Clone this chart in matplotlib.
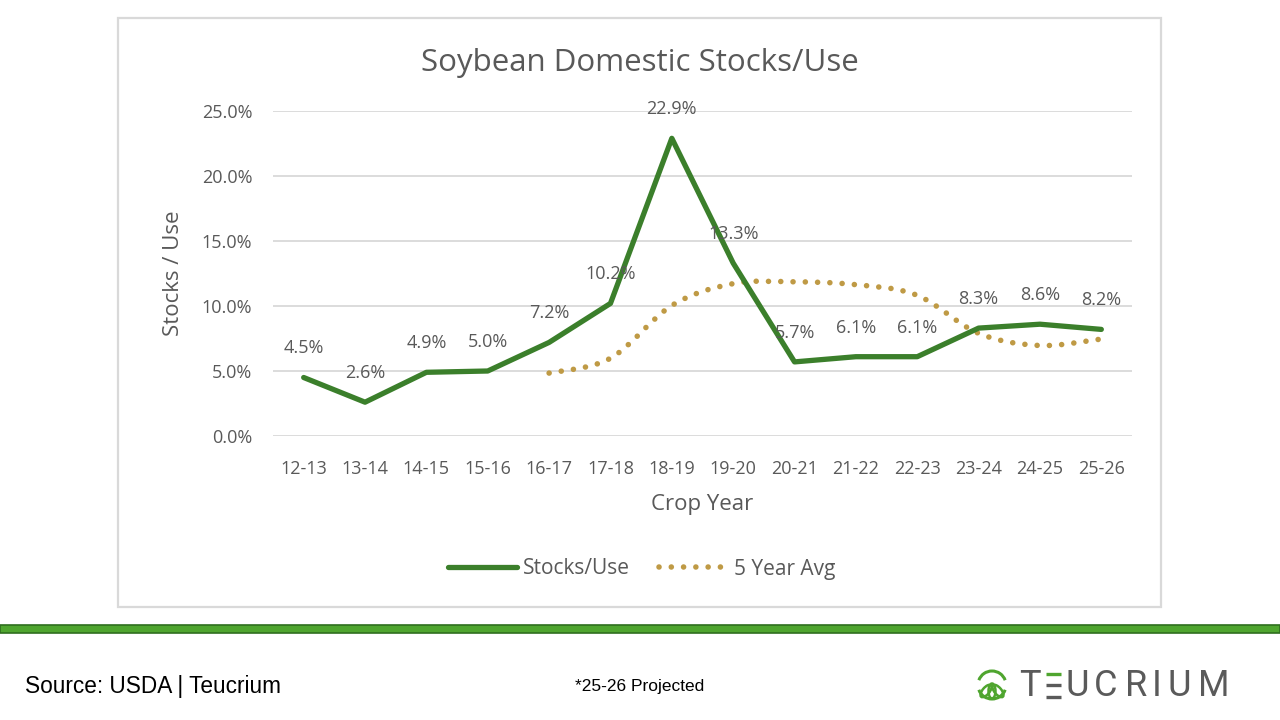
import numpy as np
import matplotlib
matplotlib.use('Agg')
import matplotlib.pyplot as plt
from matplotlib.path import Path
from matplotlib.patches import PathPatch, Rectangle, Arc, Ellipse
from matplotlib.lines import Line2D
from matplotlib.ticker import FuncFormatter

# data
crop_years = ['12-13', '13-14', '14-15', '15-16', '16-17', '17-18', '18-19',
              '19-20', '20-21', '21-22', '22-23', '23-24', '24-25', '25-26']
stocks_use = [4.5, 2.6, 4.9, 5.0, 7.2, 10.2, 22.9, 13.3, 5.7, 6.1, 6.1, 8.3, 8.6, 8.2]
# 5 year avg starts at 16-17
avg_years = crop_years[4:]
avg_5yr = [4.84, 5.98, 10.04, 11.72, 11.86, 11.64, 10.82, 7.90, 6.96, 7.46]

GREEN = '#3b7f2b'
GOLD = '#bf9a45'
GRAY = '#595959'
LOGO_GREEN = '#4fa52f'
LOGO_GRAY = '#5a5a5a'

W, H = 1280, 720
plt.rcParams['font.family'] = ['Open Sans', 'DejaVu Sans']
fig = plt.figure(figsize=(W / 100, H / 100), dpi=100)


def px(x0, y0, x1, y1):
    # pixel box (top-left origin) -> figure fraction rect
    return [x0 / W, 1 - y1 / H, (x1 - x0) / W, (y1 - y0) / H]


# chart frame
fig.patches.append(Rectangle((118 / W, 1 - 607 / H), (1161 - 118) / W, (607 - 18) / H,
                             transform=fig.transFigure, fill=False,
                             edgecolor='#d9d9d9', lw=1.6))

ax = fig.add_axes(px(273, 111, 1132, 436))
x = np.arange(len(crop_years))
y = np.array(stocks_use) / 100

ax.plot(x, y, color=GREEN, lw=3.8, solid_joinstyle='round', solid_capstyle='round',
        zorder=3, clip_on=False)

# smoothed 5 year avg (Excel-style Bezier smoothing)
xa = np.arange(4, 4 + len(avg_years), dtype=float)
ya = np.array(avg_5yr) / 100
pts = np.column_stack([xa, ya])
ext = np.vstack([pts[0], pts, pts[-1]])
verts = [tuple(pts[0])]
codes = [Path.MOVETO]
for i in range(len(pts) - 1):
    p0, p1, p2, p3 = ext[i], ext[i + 1], ext[i + 2], ext[i + 3]
    c1 = p1 + (p2 - p0) / 6
    c2 = p2 - (p3 - p1) / 6
    verts += [tuple(c1), tuple(c2), tuple(p2)]
    codes += [Path.CURVE4] * 3
ax.add_patch(PathPatch(Path(verts, codes), fill=False, edgecolor=GOLD, lw=4.0,
                       linestyle=(0, (0.01, 2.2)), capstyle='round', zorder=2))

for xi, yi, v in zip(x, y, stocks_use):
    ax.annotate(f'{v:.1f}%', (xi, yi), xytext=(0, 21), textcoords='offset points',
                ha='center', va='center', fontsize=13, color=GRAY, zorder=4,
                annotation_clip=False)

ax.set_xlim(-0.5, len(crop_years) - 0.5)
ax.set_ylim(0, 0.25)
ax.set_yticks(np.arange(0, 0.251, 0.05))
ax.yaxis.set_major_formatter(FuncFormatter(lambda v, p: f'{v * 100:.1f}%'))
ax.set_xticks(x)
ax.set_xticklabels(crop_years)
ax.grid(axis='y', color='#d9d9d9', lw=1.3)
ax.set_axisbelow(True)
for s in ax.spines.values():
    s.set_visible(False)
ax.tick_params(length=0, labelsize=13, labelcolor=GRAY)
ax.tick_params(axis='y', pad=15)
ax.tick_params(axis='x', pad=17)
ax.set_xlabel('Crop Year', fontsize=16, color=GRAY, labelpad=12)
ax.set_ylabel('Stocks / Use', fontsize=16, color=GRAY, labelpad=13)

fig.text(640 / W, 1 - 63 / H, 'Soybean Domestic Stocks/Use', ha='center', va='center',
         fontsize=22.5, color=GRAY)

handles = [Line2D([], [], color=GREEN, lw=3.8, solid_capstyle='round'),
           Line2D([], [], color=GOLD, lw=4.0, linestyle=(0, (0.01, 2.2)),
                  dash_capstyle='round')]
fig.legend(handles, ['Stocks/Use', '5 Year Avg'], loc='center',
           bbox_to_anchor=(642 / W, 1 - 569 / H), ncol=2, frameon=False,
           fontsize=15, labelcolor=GRAY, handlelength=3.3, handletextpad=0.3,
           columnspacing=1.4)

# footer bar
fig.patches.append(Rectangle((0, 1 - 633 / H), 1, 8 / H, transform=fig.transFigure,
                             facecolor=LOGO_GREEN, edgecolor='#2f6e1f', lw=1.2))

fig.text(25 / W, 1 - 686 / H, 'Source: USDA | Teucrium', ha='left', va='center',
         fontsize=16.3, color='black', family='Liberation Sans')
fig.text(640 / W, 1 - 686 / H, '*25-26 Projected', ha='center', va='center',
         fontsize=12.5, color='black', family='Liberation Sans')

# logo
lax = fig.add_axes(px(960, 655, 1260, 715))
lax.set_xlim(960, 1260)
lax.set_ylim(715, 655)
lax.axis('off')
lax.add_patch(Arc((992, 685), 28, 28, theta1=20, theta2=160, color=LOGO_GREEN, lw=2.2))
lax.add_patch(Arc((992, 685), 28, 28, theta1=200, theta2=340, color=LOGO_GREEN, lw=2.2))
for ang, dx in [(0, 0), (40, -6), (-40, 6)]:
    lax.add_patch(Ellipse((992 + dx, 691), 7, 15, angle=ang, fill=False,
                          edgecolor=LOGO_GREEN, lw=1.8))
logo_letters = ['T', 'U', 'C', 'R', 'I', 'U', 'M']
logo_centers = [1030, 1077, 1106, 1136, 1156.5, 1179, 1214]
for ch, cx in zip(logo_letters, logo_centers):
    lax.text(cx, 685.5, ch, ha='center', va='center', fontsize=26, color=LOGO_GRAY,
             family='Roboto')
for yy, c in [(673.5, LOGO_GREEN), (685, LOGO_GRAY), (696.5, LOGO_GRAY)]:
    lax.plot([1046, 1061], [yy, yy], color=c, lw=2.4, solid_capstyle='butt')

fig.savefig('out.png', dpi=100)
